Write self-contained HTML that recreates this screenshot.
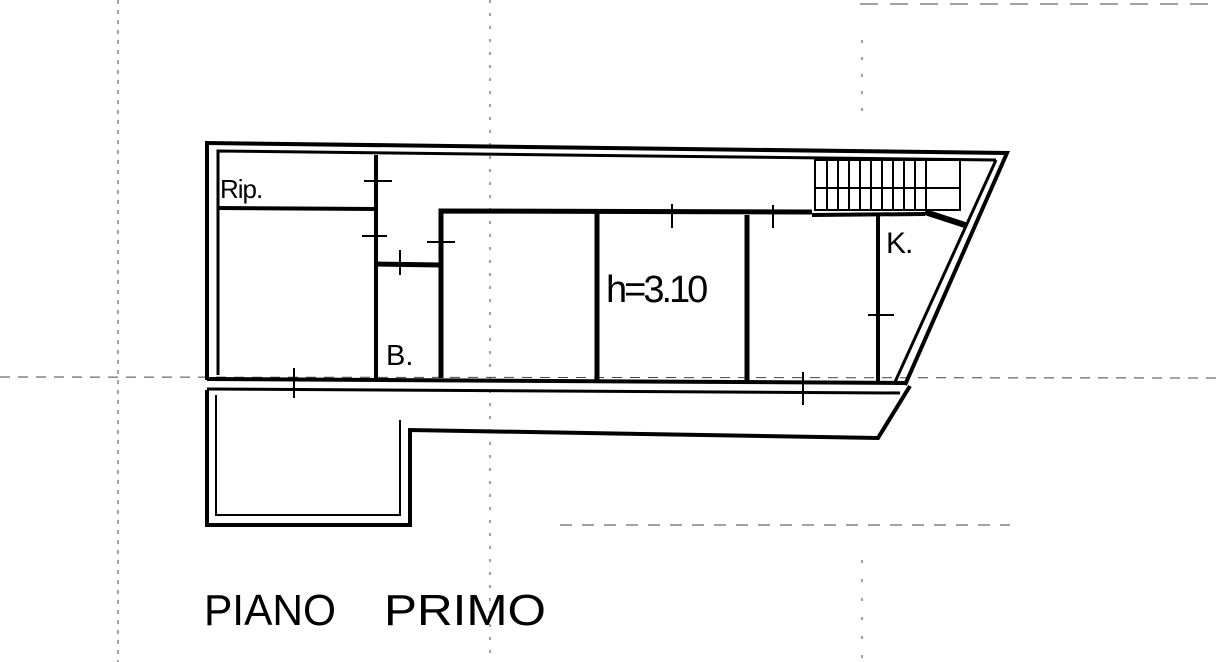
<!DOCTYPE html>
<html><head><meta charset="utf-8"><style>
html,body{margin:0;padding:0;background:#fff;width:1216px;height:662px;overflow:hidden}
svg{display:block}
</style></head><body>
<svg width="1216" height="662" viewBox="0 0 1216 662" xmlns="http://www.w3.org/2000/svg">
<g fill="none" stroke="#444" stroke-width="1" stroke-dasharray="6 6">
<line x1="118" y1="0" x2="118" y2="662" stroke-dasharray="4 6"/>
<line x1="0" y1="377" x2="1216" y2="378" stroke-dasharray="10 8"/>
<line x1="490" y1="0" x2="490" y2="662" stroke-dasharray="3 10"/>
<line x1="862" y1="40" x2="862" y2="120" stroke-dasharray="3 14"/>
<line x1="862" y1="560" x2="862" y2="662" stroke-dasharray="3 16"/>
<line x1="560" y1="525" x2="1010" y2="525" stroke-dasharray="12 10"/>
<line x1="860" y1="4" x2="1210" y2="4" stroke-dasharray="18 12"/>
</g>
<g fill="none" stroke="#000" stroke-linejoin="miter">
<polyline points="207,380 207,143 1007,153 905,385" stroke-width="4"/>
<polyline points="218,375 218,151 996,160" stroke-width="3"/>
<line x1="996" y1="160" x2="895" y2="382" stroke-width="3"/>
<line x1="218" y1="208" x2="378" y2="209" stroke-width="4"/>
<line x1="376" y1="155" x2="376" y2="378" stroke-width="4"/>
<line x1="376" y1="264" x2="441" y2="265" stroke-width="5"/>
<polyline points="441,378 441,211 812,212" stroke-width="5"/>
<line x1="597" y1="212" x2="597" y2="380" stroke-width="5"/>
<line x1="747" y1="215" x2="747" y2="381" stroke-width="5"/>
<line x1="878" y1="215" x2="878" y2="382" stroke-width="4"/>
<line x1="812" y1="215" x2="925" y2="214" stroke-width="4"/>
<polyline points="925,212 965,225" stroke-width="6"/>
<rect x="815" y="160" width="145" height="50" stroke-width="2"/>
<line x1="815" y1="188" x2="960" y2="188" stroke-width="2"/>
<g stroke-width="2">
<line x1="827" y1="160" x2="827" y2="210"/><line x1="838" y1="160" x2="838" y2="210"/><line x1="849" y1="160" x2="849" y2="210"/><line x1="860" y1="160" x2="860" y2="210"/><line x1="871" y1="160" x2="871" y2="210"/><line x1="882" y1="160" x2="882" y2="210"/><line x1="893" y1="160" x2="893" y2="210"/><line x1="904" y1="160" x2="904" y2="210"/><line x1="915" y1="160" x2="915" y2="210"/><line x1="926" y1="160" x2="926" y2="210"/>
</g>
<line x1="207" y1="379" x2="905" y2="383" stroke-width="4"/>
<line x1="207" y1="389" x2="900" y2="393" stroke-width="3"/>
<polyline points="207,390 207,525 410,525 410,430 878,438 910,386" stroke-width="4"/>
<polyline points="216,395 216,515 400,515 400,420" stroke-width="2"/>
<g stroke-width="2">
<line x1="364" y1="181" x2="392" y2="181"/><line x1="362" y1="236" x2="387" y2="236"/>
<line x1="427" y1="242" x2="455" y2="242"/><line x1="400" y1="250" x2="400" y2="275"/>
<line x1="672" y1="204" x2="672" y2="228"/><line x1="773" y1="205" x2="773" y2="228"/>
<line x1="868" y1="315" x2="894" y2="315"/><line x1="294" y1="368" x2="294" y2="398"/>
<line x1="803" y1="372" x2="803" y2="405"/>
</g>
</g>
<g font-family="Liberation Sans, sans-serif" fill="#000">
<text x="220" y="198" font-size="26" letter-spacing="-1">Rip.</text>
<text x="386" y="365" font-size="29">B.</text>
<text x="606" y="302" font-size="38" letter-spacing="-3">h=3.10</text>
<text x="886" y="253" font-size="30" letter-spacing="-1">K.</text>
<text x="204" y="625" font-size="44" textLength="132" lengthAdjust="spacingAndGlyphs">PIANO</text>
<text x="384" y="625" font-size="44" textLength="162" lengthAdjust="spacingAndGlyphs">PRIMO</text>
</g>
</svg>
</body></html>
